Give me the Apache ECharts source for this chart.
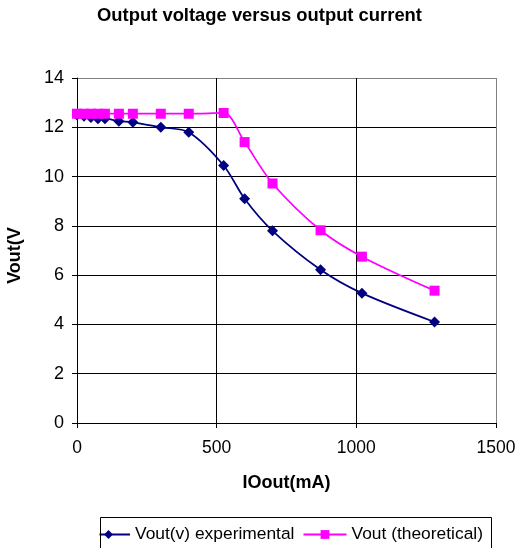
<!DOCTYPE html>
<html>
<head>
<meta charset="utf-8">
<script src="https://cdn.jsdelivr.net/npm/echarts@6/dist/echarts.min.js"></script>
<style>html,body{margin:0;padding:0;background:#fff;}#c{width:519px;height:548px;}</style>
</head>
<body>
<div id="c"></div>
<script>
const currentMA = [0, 25, 50, 75, 100, 150, 200, 300, 400, 525, 600, 700, 872, 1020, 1280];
const voutExperimental = [12.5, 12.45, 12.4, 12.35, 12.35, 12.25, 12.2, 12.0, 11.8, 10.45, 9.1, 7.8, 6.22, 5.27, 4.1];
const voutTheoretical = [12.55, 12.55, 12.55, 12.55, 12.55, 12.55, 12.55, 12.55, 12.55, 12.58, 11.4, 9.72, 7.82, 6.75, 5.37];
const xTicks = [0, 500, 1000, 1500];
const yTicks = [0, 2, 4, 6, 8, 10, 12, 14];

const F = 'Liberation Sans, Arial, sans-serif';
const chart = echarts.init(document.getElementById('c'), null, {renderer: 'canvas'});
chart.setOption({
  animation: false,
  backgroundColor: '#fff',
  title: {
    text: 'Output voltage versus output current',
    left: 'center', top: 2,
    textStyle: {fontFamily: F, fontSize: 18.4, fontWeight: 'bold', color: '#000'}
  },
  legend: {
    top: 526, left: 86,
    itemWidth: 43, itemHeight: 11, itemGap: 8,
    padding: 0,
    textStyle: {fontFamily: F, fontSize: 17.4, color: '#000'},
    data: ['Vout(v) experimental', 'Vout (theoretical)']
  },
  graphic: [
    {type: 'rect', z: 100, shape: {x: 70, y: 512, width: 29.5, height: 36}, style: {fill: '#fff'}},
    {type: 'rect', z: 101, shape: {x: 100.5, y: 517.5, width: 391, height: 40}, style: {fill: 'none', stroke: '#000', lineWidth: 1}}
  ],
  grid: {left: 77, right: 23, top: 78, bottom: 125, containLabel: false, outerBoundsMode: 'none'},
  xAxis: {
    type: 'value', min: xTicks[0], max: xTicks[xTicks.length - 1], interval: 500,
    name: 'IOout(mA)', nameLocation: 'middle', nameGap: 51,
    nameTextStyle: {fontFamily: F, fontSize: 18, fontWeight: 'bold', color: '#000'},
    axisLine: {lineStyle: {color: '#000', width: 1}},
    axisTick: {show: true, length: 5, lineStyle: {color: '#000'}},
    axisLabel: {fontFamily: F, fontSize: 17.5, color: '#000', margin: 16, formatter: v => String(v)},
    splitLine: {show: true, lineStyle: {color: ['#000', '#000', '#000', '#808080'], width: 1}}
  },
  yAxis: {
    type: 'value', min: yTicks[0], max: yTicks[yTicks.length - 1], interval: 2,
    name: 'Vout(V', nameLocation: 'middle', nameGap: 53,
    nameTextStyle: {fontFamily: F, fontSize: 18, fontWeight: 'bold', color: '#000', padding: [0, 10, 0, 0]},
    axisLine: {show: true, lineStyle: {color: '#000', width: 1}},
    axisTick: {show: true, length: 5, lineStyle: {color: '#000'}},
    axisLabel: {fontFamily: F, fontSize: 18, color: '#000', margin: 13, formatter: v => String(v)},
    splitLine: {show: true, lineStyle: {color: ['#000', '#000', '#000', '#000', '#000', '#000', '#000', '#808080'], width: 1}}
  },
  series: [
    {
      name: 'Vout(v) experimental', type: 'line', smooth: 0.3,
      data: currentMA.map((x, i) => [x, voutExperimental[i]]),
      symbol: 'diamond', symbolSize: 11,
      lineStyle: {color: '#000080', width: 1.75},
      itemStyle: {color: '#000080'}
    },
    {
      name: 'Vout (theoretical)', type: 'line', smooth: 0.3,
      data: currentMA.map((x, i) => [x, voutTheoretical[i]]),
      symbol: 'rect', symbolSize: 10,
      lineStyle: {color: '#FF00FF', width: 1.75},
      itemStyle: {color: '#FF00FF'}
    }
  ]
});
</script>
</body>
</html>
